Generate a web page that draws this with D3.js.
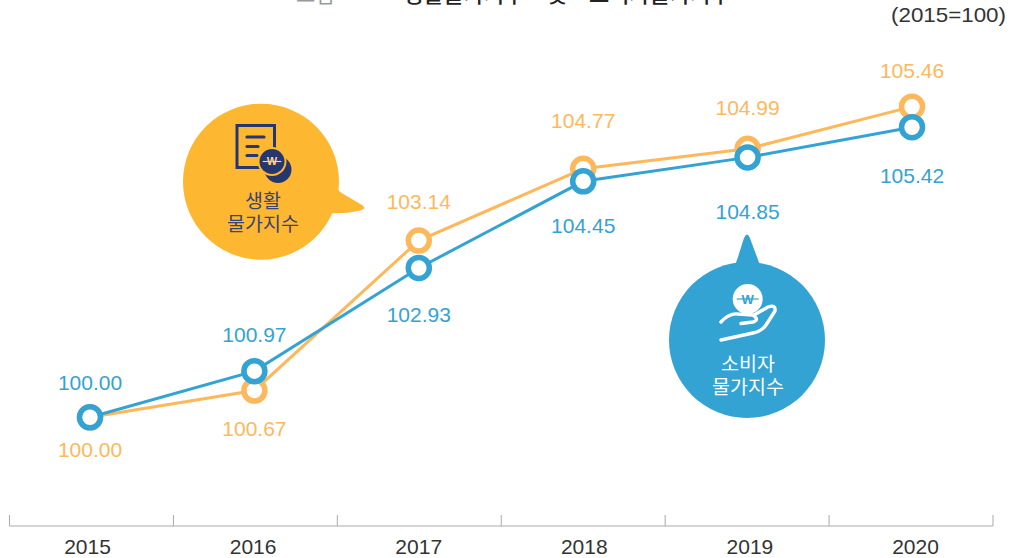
<!DOCTYPE html>
<html lang="ko">
<head>
<meta charset="utf-8">
<style>
  html, body { margin: 0; padding: 0; background: #fff; overflow: hidden; }
  svg { display: block; }
  .num { font-family: "Liberation Sans", Arial, sans-serif; }
  .kr { font-family: "Noto Sans CJK KR", "Noto Sans", sans-serif; }
</style>
<script src="https://cdn.jsdelivr.net/npm/d3@7"></script>
</head>
<body>
<div id="chart"></div>
<script>
var years = ['2015', '2016', '2017', '2018', '2019', '2020'];

// printed figures
var livingLabels = ['100.00', '100.67', '103.14', '104.77', '104.99', '105.46'];
var consumerLabels = ['100.00', '100.97', '102.93', '104.45', '104.85', '105.42'];

// the original infographic is not drawn to scale with its printed figures,
// so these are the heights of the markers
var livingValues = [100, 100.47, 103.10, 104.36, 104.71, 105.45];
var consumerValues = [100, 100.81, 102.62, 104.14, 104.56, 105.09];

var ORANGE = '#fdb85c', BLUE = '#33a3d3', NAVY = '#26366f';

var width = 1011, height = 558;

var svg = d3.select('#chart').append('svg')
    .attr('width', width)
    .attr('height', height);

var x = d3.scalePoint().domain(years).range([90, 912]);
var y = d3.scaleLinear().domain([100, 106]).range([417.3, 75.3]);

// clipped heading, only the feet of the letters show in the reference
svg.append('text').attr('class', 'kr')
    .attr('x', 403).attr('y', 2)
    .attr('font-size', 22).attr('font-weight', 500).attr('fill', '#222')
    .style('word-spacing', '16px')
    .text('생활물가지수 및 소비자물가지수');
svg.append('text').attr('class', 'kr')
    .attr('x', 296).attr('y', 2)
    .attr('font-size', 21).attr('fill', '#999')
    .text('그림');

svg.append('text')
    .attr('x', 1006).attr('y', 22)
    .attr('text-anchor', 'end')
    .attr('font-family', '"Liberation Sans", sans-serif')
    .attr('font-size', 21).attr('fill', '#333')
    .attr('textLength', 115).attr('lengthAdjust', 'spacingAndGlyphs')
    .text('(2015=100)');

// bottom axis: cell boundaries come from a band scale, labels from their own point scale
var band = d3.scaleBand().domain(years).range([9.5, 993]);
var labelX = d3.scalePoint().domain(years).range([87, 915]);

var axisG = svg.append('g')
    .attr('transform', 'translate(0,526)')
    .call(d3.axisBottom(labelX).tickSize(0).tickPadding(13).tickSizeOuter(0));
axisG.select('.domain').remove();
axisG.selectAll('text')
    .attr('class', 'num')
    .attr('font-size', 21)
    .attr('font-family', '"Liberation Sans", Arial, sans-serif')
    .attr('fill', '#333');

var bounds = years.map(function(d){ return band(d); }).concat([band.range()[1]]);
svg.append('line')
    .attr('x1', bounds[0]).attr('x2', bounds[bounds.length - 1])
    .attr('y1', 526).attr('y2', 526)
    .attr('stroke', '#aaa').attr('stroke-width', 1);
svg.selectAll('.bound').data(bounds).enter().append('line')
    .attr('class', 'bound')
    .attr('x1', function(d){ return d; }).attr('x2', function(d){ return d; })
    .attr('y1', 515).attr('y2', 526)
    .attr('stroke', '#aaa').attr('stroke-width', 1);

// speech bubbles
function bubble(cx, cy, fill, tail) {
    var g = svg.append('g');
    g.append('circle').attr('cx', cx).attr('cy', cy).attr('r', 78).attr('fill', fill);
    g.append('path').attr('d', tail).attr('fill', fill);
    return g;
}

var livingBubble = bubble(261, 181.7, '#fdb731',
    'M335,186 Q339,192 345,195 L362,205 Q368,209 358,211 Q345,214 328,213 Z');
var consumerBubble = bubble(747, 340, '#33a3d3',
    'M733,270 Q736,263 738,257 L743,241 Q747,228 751,241 L757,257 Q759,263 762,270 Z');

// won sign: a wide W with a bar running through it
function wonSign(g, cx, cy, size, color) {
    g.append('text').attr('class', 'num')
        .attr('x', cx).attr('y', cy + size * 0.36)
        .attr('text-anchor', 'middle')
        .attr('font-size', size).attr('font-weight', 700).attr('fill', color)
        .text('W');
    g.append('line')
        .attr('x1', cx - size * 0.85).attr('x2', cx + size * 0.85)
        .attr('y1', cy).attr('y2', cy)
        .attr('stroke', color).attr('stroke-width', 1.2);
}

// document + coins icon
var docIcon = livingBubble.append('g').attr('fill', 'none').attr('stroke', NAVY);
docIcon.append('path')
    .attr('d', 'M261,167.5 H237 V125.5 H274.5 V150')
    .attr('stroke-width', 3);
docIcon.append('path')
    .attr('d', 'M247,137 H264 M247,146.500 H258 M247,155.500 H257')
    .attr('stroke-width', 3.2).attr('stroke-linecap', 'round');
livingBubble.append('circle').attr('cx', 278).attr('cy', 169.500).attr('r', 13.500).attr('fill', NAVY);
livingBubble.append('circle').attr('cx', 272).attr('cy', 161.500).attr('r', 14.500).attr('fill', '#fdb731');
livingBubble.append('circle').attr('cx', 272).attr('cy', 161.500).attr('r', 12.500).attr('fill', NAVY);
wonSign(livingBubble, 272, 161.500, 11, '#fdd28a');

// hand + coin icon
consumerBubble.append('circle').attr('cx', 747.700).attr('cy', 299).attr('r', 15).attr('fill', '#fff');
wonSign(consumerBubble, 747.700, 299, 13, BLUE);
consumerBubble.append('path')
    .attr('d', 'M721,322 Q729,313 738,314 L753,315 Q760,320 753,322 L741,323.500 M754,315 L768,307 Q776,304 775,311 L766,325 Q762,331 753,333 L721,340')
    .attr('fill', 'none').attr('stroke', '#fff').attr('stroke-width', 3.400)
    .attr('stroke-linecap', 'round').attr('stroke-linejoin', 'round');

function bubbleText(g, cx, lines, ys, fill) {
    lines.forEach(function(t, i){
        g.append('text').attr('class', 'kr')
            .attr('x', cx).attr('y', ys[i])
            .attr('text-anchor', 'middle')
            .attr('font-size', 19.500).attr('fill', fill)
            .text(t);
    });
}
bubbleText(livingBubble, 263, ['생활', '물가지수'], [208, 231], '#3a4470');
bubbleText(consumerBubble, 748, ['소비자', '물가지수'], [371, 394], '#fff');

// series
var line = d3.line()
    .x(function(d, i){ return x(years[i]); })
    .y(function(d){ return y(d); });

function drawSeries(values, color) {
    svg.append('path')
        .datum(values)
        .attr('fill', 'none')
        .attr('stroke', color)
        .attr('stroke-width', 3)
        .attr('d', line);
    svg.selectAll(null).data(values).enter().append('circle')
        .attr('cx', function(d, i){ return x(years[i]); })
        .attr('cy', function(d){ return y(d); })
        .attr('r', 10.500)
        .attr('fill', '#fff')
        .attr('stroke', color)
        .attr('stroke-width', 5.500);
}
drawSeries(livingValues, ORANGE);
drawSeries(consumerValues, BLUE);

// value labels, nudged one by one like in the reference
var livingDy = [33, 38, -39, -48, -41, -36];
var consumerDy = [-34, -36, 47, 45, 55, 49];

function drawLabels(labels, values, dy, color) {
    svg.selectAll(null).data(labels).enter().append('text')
        .attr('class', 'num')
        .attr('x', function(d, i){ return x(years[i]); })
        .attr('y', function(d, i){ return y(values[i]) + dy[i] + 7; })
        .attr('text-anchor', 'middle')
        .attr('font-size', 21)
        .attr('fill', color)
        .text(function(d){ return d; });
}
drawLabels(livingLabels, livingValues, livingDy, ORANGE);
drawLabels(consumerLabels, consumerValues, consumerDy, BLUE);
</script>
</body>
</html>
